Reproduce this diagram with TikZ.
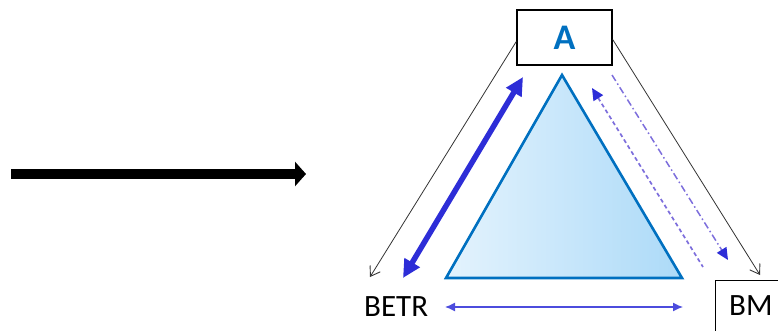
\documentclass[tikz,border=0pt]{standalone}
\usepackage{fontspec}
\setsansfont{Carlito}
\usepackage{tikz}
\usetikzlibrary{arrows.meta,positioning,calc,shapes.geometric}
\definecolor{abblue}{RGB}{0,112,192}
\definecolor{arrblue}{RGB}{45,45,215}
\definecolor{dashblue}{RGB}{125,110,220}
\definecolor{trilight}{RGB}{228,243,253}
\definecolor{tridark}{RGB}{172,218,248}
\tikzset{
  labelbox/.style={rectangle, draw, line width=1.4pt, inner sep=0pt, font=\sffamily\fontsize{31}{31}\selectfont},
  plainlabel/.style={inner sep=0pt, font=\sffamily\fontsize{31}{31}\selectfont},
  thinarrow/.style={-{Straight Barb[length=9pt,width=12pt,line width=0.9pt]}, line width=0.8pt, black!80},
  thickarrow/.style={{Triangle[length=18pt,width=17pt]}-{Triangle[length=18pt,width=17pt]}, line width=5.5pt, arrblue},
  biarrow/.style={{Latex[length=10pt,width=9pt]}-{Latex[length=10pt,width=9pt]}, line width=1.3pt, arrblue!85},
  dasharrow/.style={{Triangle[length=12pt,width=11pt,color=arrblue]}-, line width=1.7pt, dashblue, dash pattern=on 4pt off 3pt},
  dashdotarrow/.style={-{Triangle[length=12pt,width=11pt,color=arrblue]}, line width=1.5pt, dashblue, dash pattern=on 7pt off 3pt on 1.5pt off 3pt},
}

\begin{document}
\begin{tikzpicture}[x=1pt,y=-1pt]
  % canvas
  \useasboundingbox (0,0) rectangle (778,331);
  \clip (0,0) rectangle (778,331);

  % big arrow on the left
  \coordinate (leftstart) at (11,174);
  \coordinate (leftend) at (306,174);
  \draw[line width=9.5pt, -{Triangle[length=11pt,width=24pt]}] (leftstart) -- (leftend);

  % triangle
  \coordinate (triTop) at (562,75);
  \coordinate (triL) at (446,278);
  \coordinate (triR) at (682,278);
  \path[draw=abblue, line width=2.6pt, line join=miter, shading=axis, shading angle=60, left color=trilight, right color=tridark]
    (triTop) -- (triR) -- (triL) -- cycle;

  % corner labels
  \node[labelbox, minimum width=95pt, minimum height=55pt, font=\sffamily\bfseries\fontsize{36}{36}\selectfont, text=abblue] (boxA) at (564.5,37.5) {A};
  \node[plainlabel, anchor=west] (betr) at (364,307) {BETR};
  \node[labelbox, anchor=north west, minimum width=90pt, minimum height=70pt] (bm) at (715,280) {};
  \node[plainlabel, anchor=west] (bmtext) at (729,306) {BM};

  % free ends of the connectors
  \coordinate (betrTip) at (370,277);
  \coordinate (bmTip) at (760,275);
  \coordinate (thickL) at (403,278);
  \coordinate (thickA) at (523,77);
  \coordinate (dashTop) at (592,88);
  \coordinate (dashEnd) at (703,267);
  \coordinate (dotStart) at (612,75);
  \coordinate (dotEnd) at (728,260);
  \coordinate (baseL) at (445,307);
  \coordinate (baseR) at (683,307);

  % thin black arrows out of A
  \draw[thinarrow] ($(boxA.west)+(0,4)$) -- (betrTip);
  \draw[thinarrow] ($(boxA.east)+(0,2)$) -- (bmTip);

  % blue arrows along the sides
  \draw[thickarrow] (thickL) -- (thickA);
  \draw[biarrow] (baseL) -- (baseR);
  \draw[dasharrow] (dashTop) -- (dashEnd);
  \draw[dashdotarrow] (dotStart) -- (dotEnd);
\end{tikzpicture}
\end{document}
